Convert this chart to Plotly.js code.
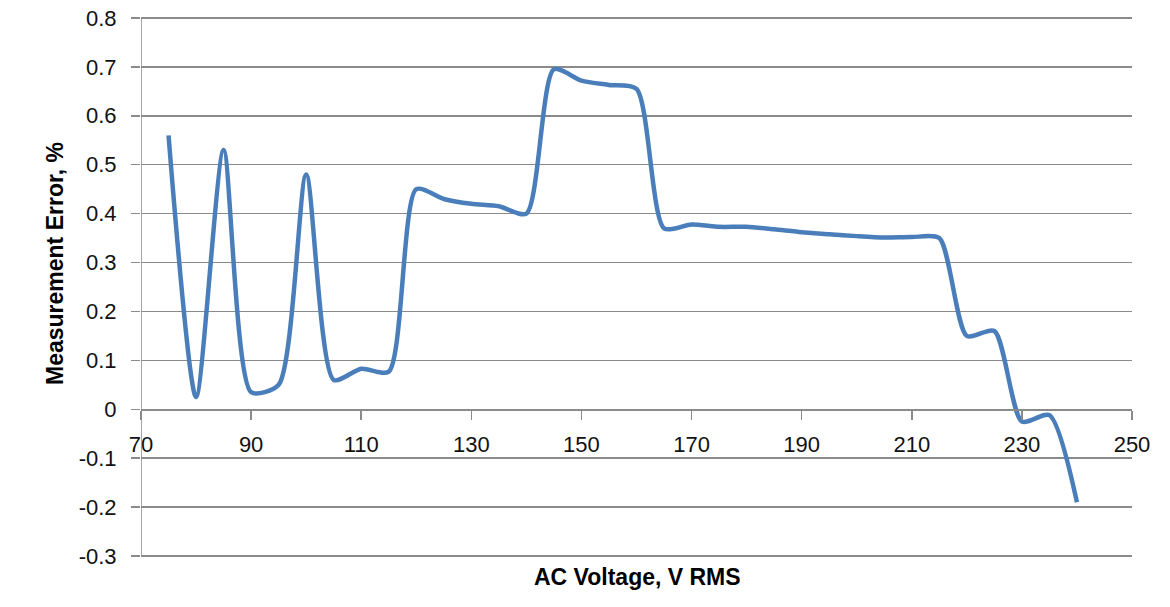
<!DOCTYPE html>
<html>
<head>
<meta charset="utf-8">
<script src="https://cdn.plot.ly/plotly-3.0.1.min.js"></script>
<style>
html,body{margin:0;padding:0;background:#fff;}
#chart{width:1170px;height:607px;}
</style>
</head>
<body>
<div id="chart"></div>
<script>
// AC voltage (V RMS)
const voltage = [75,80,85,90,95,100,105,110,115,120,125,130,135,140,145,150,155,160,165,170,175,180,185,190,195,200,205,210,215,220,225,230,235,240];
// Measurement error (%)
const errorPct = [0.56,0.025,0.53,0.035,0.05,0.48,0.06,0.083,0.077,0.45,0.43,0.42,0.415,0.40,0.695,0.672,0.663,0.655,0.37,0.378,0.373,0.373,0.368,0.362,0.358,0.354,0.351,0.352,0.35,0.15,0.16,-0.025,-0.012,-0.19];
const xTicks = [70,90,110,130,150,170,190,210,230,250];
const yTicks = [-0.3,-0.2,-0.1,0,0.1,0.2,0.3,0.4,0.5,0.6,0.7,0.8];
const xTitle = 'AC Voltage, V RMS';
const yTitle = 'Measurement Error, %';

const trace = {
  x: voltage,
  y: errorPct,
  type: 'scatter',
  mode: 'lines',
  line: {color: '#4A7EBB', width: 4.5, shape: 'spline', smoothing: 0.7},
  hoverinfo: 'x+y'
};

const tickFont = {family: 'Liberation Sans, Arial, sans-serif', size: 22, color: '#111'};
const titleFont = {family: 'Liberation Sans, Arial, sans-serif', size: 23, color: '#000', weight: 'bold'};

const yMin = -0.304, yMax = 0.804;

const layout = {
  width: 1170, height: 607,
  margin: {l: 141, r: 38, t: 16, b: 49},
  paper_bgcolor: '#fff', plot_bgcolor: '#fff',
  showlegend: false,
  xaxis: {
    range: [70, 250],
    tickmode: 'array', tickvals: xTicks, ticktext: xTicks.map(String),
    anchor: 'free', position: (0 - yMin) / (yMax - yMin),
    showgrid: false, zeroline: false,
    showline: true, linecolor: '#8a8a8a', linewidth: 1.5,
    ticks: 'outside', ticklen: 9, tickcolor: '#8a8a8a', tickwidth: 1.5,
    ticklabelstandoff: 6,
    tickfont: tickFont
  },
  yaxis: {
    range: [yMin, yMax],
    tickmode: 'array', tickvals: yTicks,
    ticktext: yTicks.map(v => v === 0 ? '0' : String(v)),
    showgrid: true, gridcolor: '#8a8a8a', gridwidth: 1.5,
    zeroline: false,
    showline: false,
    ticks: 'outside', ticklen: 9, tickcolor: '#8a8a8a', tickwidth: 1.5,
    ticklabelstandoff: 10,
    tickfont: tickFont
  },
  shapes: [
    {type: 'line', xref: 'x', yref: 'y', x0: 70, x1: 70, y0: -0.3, y1: 0.8,
     line: {color: '#8a8a8a', width: 1.5}}
  ],
  annotations: [
    {text: '<b>' + xTitle + '</b>', xref: 'paper', yref: 'paper', x: (637 - 141) / 991, y: (558 - 577) / 542,
     xanchor: 'center', yanchor: 'middle', showarrow: false, font: titleFont},
    {text: '<b>' + yTitle + '</b>', xref: 'paper', yref: 'paper', x: (55 - 141) / 991, y: (558 - 264) / 542,
     xanchor: 'center', yanchor: 'middle', textangle: -90, showarrow: false, font: titleFont}
  ]
};

Plotly.newPlot('chart', [trace], layout, {displayModeBar: false, staticPlot: true});
</script>
</body>
</html>
